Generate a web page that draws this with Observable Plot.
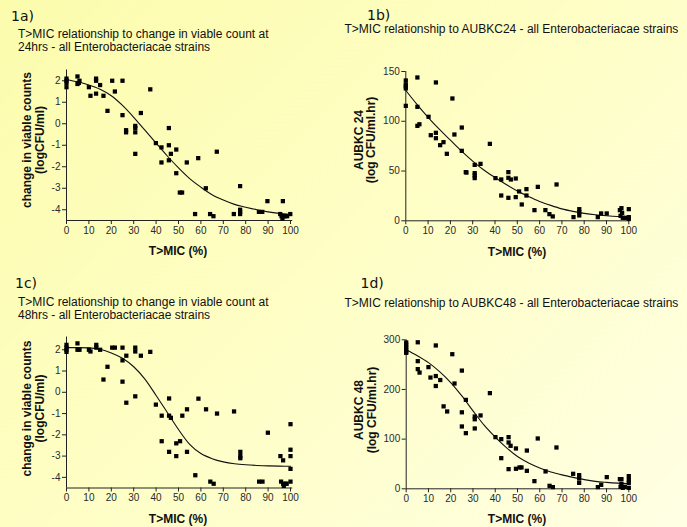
<!DOCTYPE html>
<html><head><meta charset="utf-8">
<script src="https://cdn.jsdelivr.net/npm/d3@7"></script>
<script src="https://cdn.jsdelivr.net/npm/@observablehq/plot@0.6"></script>
<style>
body{margin:0;}
#page{position:relative;width:687px;height:527px;overflow:hidden;background:linear-gradient(135deg,#fcfcad 0%,#fefec6 50%,#ffffe4 100%);}
.panel{position:absolute;}
#overlay{position:absolute;left:0;top:0;}
</style></head><body><div id="page"></div><script>
// ---- data ----
const xTicks = [0,10,20,30,40,50,60,70,80,90,100];
const changeTicks = [-4,-3,-2,-1,0,1,2];
const aubkc24Ticks = [0,50,100,150];
const aubkc48Ticks = [0,100,200,300];
const fitX = [0,5,10,15,20,25,30,35,40,45,50,55,60,65,70,75,80,85,90,95,100];

// 1a: T>MIC vs change in viable count at 24 h
const points24 = [[0,2.1],[0,2.0],[0,1.9],[0,1.7],[4.9,2.2],[4.9,1.85],[5.8,2.0],[5.5,1.9],[10,1.7],[10.7,1.3],[13.2,2.1],[13.2,2.0],[13.2,1.4],[15,1.8],[16.5,1.3],[18.3,0.6],[20.4,2.0],[21.6,1.5],[25,2.0],[25,0.4],[26.6,-0.3],[26.6,-0.4],[30.7,-0.1],[30.7,-0.2],[30.7,-0.4],[30.7,-1.4],[33.2,0.5],[37.4,1.6],[39.9,-0.9],[42.4,-1.1],[42.4,-1.8],[45.7,-0.2],[45.7,-1.0],[45.7,-1.7],[46.6,-1.4],[49,-1.2],[49,-2.3],[50.6,-3.2],[51.6,-3.2],[53.7,-1.8],[57.4,-4.2],[58.8,-1.6],[62.2,-3.0],[64.1,-4.2],[65.6,-4.3],[67.1,-1.3],[74.7,-4.2],[77.5,-2.9],[77.5,-4.0],[77.5,-4.1],[77.5,-4.2],[85.9,-4.1],[87.4,-4.1],[89.7,-3.6],[95.4,-4.2],[96,-4.3],[96.4,-4.4],[96.6,-3.6],[97,-4.3],[97.6,-4.3],[98.5,-4.3],[99.9,-4.2]];
const fit24 = [2.05,1.95,1.8,1.6,1.3,0.85,0.3,-0.3,-0.9,-1.5,-2.05,-2.55,-2.95,-3.3,-3.55,-3.75,-3.88,-4.0,-4.1,-4.17,-4.22];

// 1b: T>MIC vs AUBKC24
const pointsAU24 = [[0,141],[0,137],[0,135],[0,133],[0,115.5],[5.2,144],[5.2,114.5],[5.2,95.4],[6.1,97],[10.2,104.5],[11.2,86],[13.5,139],[13.5,88.4],[13.5,83],[15.4,76],[16.9,79],[18.4,67.3],[20.9,122.9],[21.8,86.7],[25.1,93.7],[25.1,70.3],[26.9,48.9],[27.2,48.5],[30.9,56.2],[30.9,47.9],[30.9,45.5],[30.9,42.9],[33.5,57.2],[37.7,77.3],[40.2,42.9],[42.8,41.5],[42.8,25.4],[46,48.9],[46,43.2],[46,23.1],[47.1,41.5],[49.3,42.5],[49.3,23.8],[50.8,29.5],[52,16.4],[54.1,31.8],[54.1,25.4],[57.7,10.7],[59.2,34.1],[62.6,10.7],[64.4,6.7],[65.9,4.4],[67.6,36.5],[75.2,3.7],[77.8,11.7],[77.8,8.7],[77.8,5.4],[86.1,3.7],[87.6,7.4],[90.1,7.4],[96,10.7],[96.3,5],[96.7,12.7],[97,8],[97.3,3],[98.5,3],[100,11.7],[100,3.7],[100,2]];
const fitAU24 = [131,117,104,92,81,70,60,51,43.5,36.5,30,24.5,19.5,15.5,12,9.5,7.5,6,5,4.3,4];

// 1c: T>MIC vs change in viable count at 48 h
const points48 = [[0,2.23],[0,2.1],[0,2.0],[0,1.9],[4.9,2.3],[4.9,2.0],[5.8,2.0],[10,2.0],[10.7,1.92],[13.3,2.23],[13.3,2.1],[15,2.0],[16.5,0.6],[18.3,1.2],[20.4,2.1],[21.6,2.1],[25,2.1],[25,1.5],[25,0.5],[26.7,1.72],[26.7,-0.49],[30.7,2.1],[30.7,1.92],[30.7,-0.19],[33.2,1.72],[37.4,1.9],[39.9,-0.58],[42.5,-1.1],[42.5,-2.3],[45.8,-0.29],[45.8,-1.1],[45.8,-2.8],[46.6,-1.2],[49,-2.4],[49,-3.0],[50.7,-2.3],[51.7,-1.1],[53.8,-0.8],[53.8,-2.8],[57.5,-3.9],[58.9,-0.3],[62.3,-0.8],[64.2,-4.2],[65.7,-4.3],[67.2,-1.0],[74.8,-0.9],[77.6,-2.8],[77.6,-3.0],[77.6,-3.1],[86,-4.2],[87.5,-4.2],[89.9,-1.9],[95.5,-3.0],[95.8,-4.2],[96.7,-3.2],[96.7,-4.3],[97,-4.4],[97.8,-4.3],[98.3,-4.3],[100,-1.5],[100,-2.7],[100,-3.0],[100,-3.6],[100,-4.2]];
const fit48 = [2.1,2.1,2.09,2.02,1.85,1.6,1.2,0.62,-0.15,-0.95,-1.75,-2.45,-2.88,-3.12,-3.27,-3.36,-3.41,-3.44,-3.46,-3.47,-3.48];

// 1d: T>MIC vs AUBKC48
const pointsAU48 = [[0,294.6],[0,290],[0,285],[0,280.5],[0,275.8],[0,273.8],[5.2,295],[5.2,257],[5.2,241],[6,234],[10,245],[10.9,224],[13.3,288.6],[13.3,227],[13.3,207],[15.3,219],[16.8,166],[18.4,155.7],[20.7,271],[21.7,212],[25,238],[25,154],[25,125.5],[26.8,179],[26.8,112],[30.8,145.6],[30.8,140],[30.8,121.5],[33.4,147.7],[37.6,192.6],[40.1,104],[42.7,100],[42.7,61.7],[46,104],[46,93.3],[46,39.6],[46.9,86.6],[49.3,81.2],[49.3,40.3],[50.9,43],[51.8,43],[54.2,77],[54.2,36.2],[57.6,15.4],[59.1,101.3],[62.6,35],[64.4,6],[65.9,3.4],[67.5,83.2],[75,30.2],[77.7,27.5],[77.7,20.8],[77.7,12],[86.1,3.4],[87.6,8],[90.1,23.5],[96,19.5],[96.3,4],[96.7,19.5],[96.7,10],[97.3,2],[98.2,4],[100,25.5],[100,18],[100,12],[100,2]];
const fitAU48 = [280,268,254,236,214,187,157,128,104,83,65,52,42,34,28,23,18.5,15,13,11.5,10.5];

// ---- layout ----
const page = document.getElementById("page");
const panels = [
  {pts: points24, fit: fit24, yDomain: [-4.5, 2.5], yTicks: changeTicks, left: 0, top: 0, width: 344, height: 264, mL: 66, mR: 54, mT: 69.5, mB: 44},
  {pts: pointsAU24, fit: fitAU24, yDomain: [0, 150], yTicks: aubkc24Ticks, left: 344, top: 0, width: 343, height: 264, mL: 61.3, mR: 58.7, mT: 71, mB: 43.7},
  {pts: points48, fit: fit48, yDomain: [-4.5, 2.6], yTicks: changeTicks, left: 0, top: 264, width: 344, height: 263, mL: 66, mR: 54, mT: 72.5, mB: 39.5},
  {pts: pointsAU48, fit: fitAU48, yDomain: [0, 300], yTicks: aubkc48Ticks, left: 344, top: 264, width: 343, height: 263, mL: 61.7, mR: 58.7, mT: 75.3, mB: 38.7}
];

for (const p of panels) {
  const curve = fitX.map((x, i) => ({x, y: p.fit[i]}));
  const chart = Plot.plot({
    width: p.width, height: p.height,
    marginLeft: p.mL, marginRight: p.mR, marginTop: p.mT, marginBottom: p.mB,
    style: {background: "transparent", fontFamily: "'Liberation Sans', Arial, sans-serif", fontSize: "10px", color: "#2a2a2a", overflow: "visible"},
    x: {domain: [0, 100]},
    y: {domain: p.yDomain},
    marks: [
      Plot.ruleX([0], {stroke: "#222", strokeWidth: 1}),
      Plot.ruleY([p.yDomain[0]], {x1: 0, x2: 101, stroke: "#222", strokeWidth: 1}),
      Plot.axisX({ticks: xTicks, tickSize: 4, tickPadding: 2, tickFormat: d => String(d), label: null, stroke: "#222"}),
      Plot.axisY({ticks: p.yTicks, tickSize: 4, tickPadding: 2, tickFormat: d => String(d), label: null, stroke: "#222"}),
      Plot.line(curve, {x: "x", y: "y", curve: "monotone-x", stroke: "#111", strokeWidth: 1.1}),
      Plot.dot(p.pts, {x: d => d[0], y: d => d[1], symbol: "square", r: 2.4, fill: "#000", stroke: null})
    ]
  });
  chart.classList.add("panel");
  chart.style.left = p.left + "px";
  chart.style.top = p.top + "px";
  chart.style.position = "absolute";
  page.appendChild(chart);
}

// ---- text overlay (titles, subtitles, axis titles) ----
const headings = [
  {t: "1a)", x: 11, y: 20.5}, {t: "1b)", x: 367, y: 20}, {t: "1c)", x: 15, y: 287.5}, {t: "1d)", x: 360.5, y: 288}
];
const subtitles = [
  {t: "T>MIC relationship to change in viable count at", x: 18, y: 37.5, s: 12},
  {t: "24hrs - all Enterobacteriacae strains", x: 18, y: 51, s: 12},
  {t: "T>MIC relationship to AUBKC24 - all Enterobacteriacae strains", x: 344.5, y: 32.5, s: 12},
  {t: "T>MIC relationship to change in viable count at", x: 18, y: 305.5, s: 12},
  {t: "48hrs - all Enterobacteriacae strains", x: 18, y: 319, s: 12},
  {t: "T>MIC relationship to AUBKC48 - all Enterobacteriacae strains", x: 344.5, y: 306.5, s: 12}
];
const xTitles = [
  {t: "T>MIC (%)", x: 178, y: 254.5}, {t: "T>MIC (%)", x: 517, y: 255.5},
  {t: "T>MIC (%)", x: 178, y: 523}, {t: "T>MIC (%)", x: 517, y: 523}
];
const yTitles = [
  {t: "change in viable counts", x: 30.5, y: 140}, {t: "(logCFU/ml)", x: 43.5, y: 140},
  {t: "AUBKC 24", x: 362.5, y: 140}, {t: "(log CFU/ml.hr)", x: 375, y: 140},
  {t: "change in viable counts", x: 30.5, y: 408.5}, {t: "(logCFU/ml)", x: 43.5, y: 408.5},
  {t: "AUBKC 48", x: 363, y: 410}, {t: "(log CFU/ml.hr)", x: 375.5, y: 410}
];
const svg = d3.select(page).append("svg").attr("id", "overlay").attr("width", 687).attr("height", 527);
svg.selectAll("text.h").data(headings).join("text").attr("class", "h")
  .attr("x", d => d.x).attr("y", d => d.y).text(d => d.t)
  .attr("font-family", "'DejaVu Sans', sans-serif").attr("font-size", 14).attr("fill", "#111");
svg.selectAll("text.s").data(subtitles).join("text").attr("class", "s")
  .attr("x", d => d.x).attr("y", d => d.y).text(d => d.t)
  .attr("font-family", "'Liberation Sans', Arial, sans-serif").attr("font-size", d => d.s).attr("fill", "#111");
svg.selectAll("text.xt").data(xTitles).join("text").attr("class", "xt")
  .attr("x", d => d.x).attr("y", d => d.y).attr("text-anchor", "middle").text(d => d.t)
  .attr("font-family", "'Liberation Sans', Arial, sans-serif").attr("font-size", 12).attr("font-weight", "bold").attr("fill", "#111");
svg.selectAll("text.yt").data(yTitles).join("text").attr("class", "yt")
  .attr("transform", d => `translate(${d.x},${d.y}) rotate(-90)`).attr("text-anchor", "middle").text(d => d.t)
  .attr("font-family", "'Liberation Sans', Arial, sans-serif").attr("font-size", 12).attr("font-weight", "bold").attr("fill", "#111");
</script></body></html>
